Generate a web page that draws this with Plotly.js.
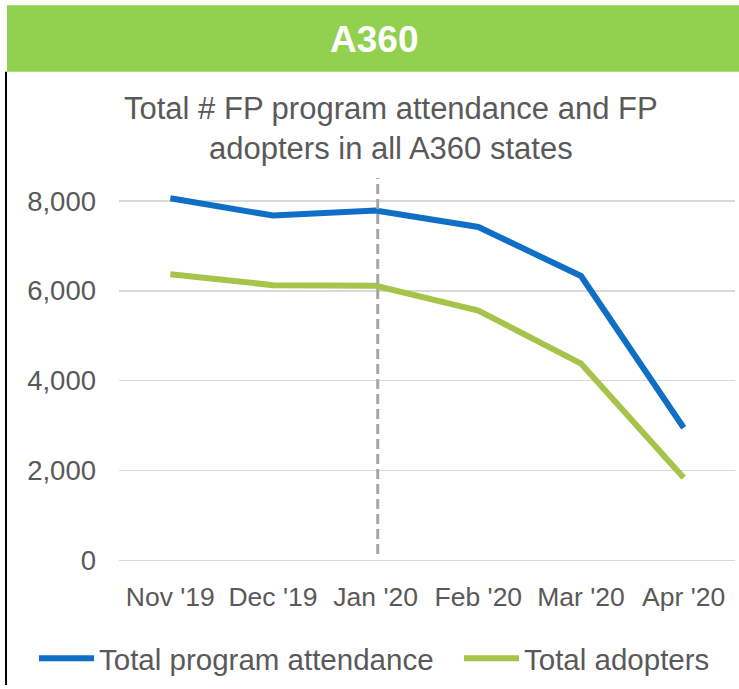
<!DOCTYPE html>
<html>
<head>
<meta charset="utf-8">
<script src="https://cdn.plot.ly/plotly-3.0.1.min.js"></script>
<style>
html,body{margin:0;padding:0;background:#fff;}
#chart{width:739px;height:689px;}
</style>
</head>
<body>
<div id="chart"></div>
<script>
var months = ["Nov '19", "Dec '19", "Jan '20", "Feb '20", "Mar '20", "Apr '20"];
var attendance = [8060, 7675, 7785, 7420, 6330, 2950];
var adopters = [6370, 6125, 6110, 5560, 4380, 1840];
var yTicks = [0, 2000, 4000, 6000, 8000];
var yTickText = ["0", "2,000", "4,000", "6,000", "8,000"];

var W = 739, H = 689;
var L = 119, R = 735, T = 174, B = 566;
var yMin = -60, yMax = 8600;
function px(x) { return (x - L) / (R - L); }
function py(y) { return (B - y) / (B - T); }

var grey = '#595959';
var font = 'Liberation Sans, Arial, sans-serif';

var traces = [
  {x: months, y: attendance, type: 'scatter', mode: 'lines', name: 'Total program attendance',
   line: {color: '#0F6FC6', width: 6}, legend: 'legend'},
  {x: months, y: adopters, type: 'scatter', mode: 'lines', name: 'Total adopters',
   line: {color: '#A5C449', width: 6}, legend: 'legend2'}
];

var legendStyle = function (xpx) {
  return {
    orientation: 'h', x: px(xpx), xanchor: 'left', y: py(636), yanchor: 'top',
    font: {size: 29.5, color: grey, family: font}, itemwidth: 55,
    bgcolor: 'rgba(0,0,0,0)'
  };
};

var layout = {
  width: W, height: H,
  margin: {l: L, r: W - R, t: T, b: H - B, pad: 0},
  paper_bgcolor: '#fff', plot_bgcolor: '#fff',
  showlegend: true,
  font: {family: font, color: grey},
  xaxis: {
    type: 'category', range: [-0.5, 5.5], showgrid: false, zeroline: false, showline: false,
    tickfont: {size: 26.5, color: grey, family: font}, ticks: '', ticklabelstandoff: 15, fixedrange: true
  },
  yaxis: {
    range: [yMin, yMax], tickvals: yTicks, ticktext: yTickText, showgrid: true,
    gridcolor: '#D9D9D9', gridwidth: 1.5, zeroline: false, showline: false,
    tickfont: {size: 27.5, color: grey, family: font}, ticks: '', ticklabelstandoff: 22, fixedrange: true
  },
  legend: legendStyle(34),
  legend2: legendStyle(459),
  shapes: [
    {type: 'rect', xref: 'paper', yref: 'paper', x0: px(7), x1: px(739), y0: py(71), y1: py(4),
     fillcolor: '#92D050', line: {width: 0}, layer: 'below'},
    {type: 'line', xref: 'paper', yref: 'paper', x0: px(6), x1: px(6), y0: py(71), y1: py(689),
     line: {color: '#000', width: 2}},
    {type: 'line', xref: 'x', yref: 'paper', x0: 2.02, x1: 2.02, y0: py(557), y1: py(178),
     line: {color: '#A6A6A6', width: 3, dash: '10px,5px'}}
  ],
  annotations: [
    {text: '<b>A360</b>', xref: 'paper', yref: 'paper', x: px(374), y: py(38), xanchor: 'center', yanchor: 'middle',
     showarrow: false, font: {size: 37, color: '#fff', family: font}},
    {text: 'Total # FP program attendance and FP<br>adopters in all A360 states', xref: 'paper', yref: 'paper',
     x: px(391), y: py(88), xanchor: 'center', yanchor: 'top', showarrow: false,
     font: {size: 31, color: grey, family: font}}
  ]
};

Plotly.newPlot('chart', traces, layout, {displayModeBar: false, staticPlot: true});
</script>
</body>
</html>
